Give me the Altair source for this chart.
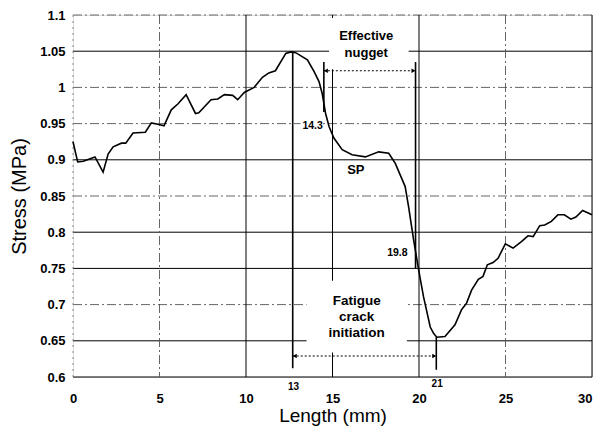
import altair as alt
import pandas as pd

# ---- data ----
length = [0, 0.27, 0.6, 1.27, 1.74, 2.03, 2.32, 2.8, 3.05, 3.47,
          4.18, 4.53, 4.9, 5.26, 5.68, 6.06, 6.54, 7.08, 7.27, 7.98,
          8.37, 8.75, 9.23, 9.52, 9.9, 10.47, 10.95, 11.32, 11.7, 12.3,
          12.59, 12.87, 13.55, 13.93, 14.22, 14.4, 14.6, 14.8, 15.08, 15.56,
          16.13, 16.9, 17.67, 18.25, 18.63, 19.2, 19.4, 19.69, 19.98, 20.26,
          20.65, 20.85, 21.03, 21.5, 22.08, 22.46, 22.75, 23.04, 23.43, 23.7,
          23.95, 24.28, 24.57, 24.99, 25.44, 25.92, 26.3, 26.6, 26.98, 27.27,
          27.65, 28.03, 28.4, 28.78, 29.07, 29.46, 30]
stress = [0.925, 0.897, 0.898, 0.904, 0.883, 0.908, 0.918, 0.923, 0.923, 0.937,
          0.938, 0.951, 0.949, 0.947, 0.969, 0.977, 0.990, 0.964, 0.965, 0.983,
          0.984, 0.990, 0.989, 0.983, 0.993, 1.0, 1.014, 1.02, 1.023, 1.047,
          1.049, 1.048, 1.038, 1.022, 1.008, 0.992, 0.964, 0.946, 0.930, 0.914,
          0.907, 0.904, 0.911, 0.909, 0.895, 0.863, 0.835, 0.789, 0.748, 0.711,
          0.669, 0.660, 0.655, 0.656, 0.672, 0.693, 0.702, 0.72, 0.735, 0.739,
          0.755, 0.758, 0.764, 0.784, 0.778, 0.787, 0.795, 0.794, 0.809, 0.81,
          0.815, 0.824, 0.824, 0.818, 0.821, 0.830, 0.824]

x_ticks = [0, 5, 10, 15, 20, 25, 30]
y_ticks = [0.6, 0.65, 0.7, 0.75, 0.8, 0.85, 0.9, 0.95, 1.0, 1.05, 1.1]

grid_solid_y = [0.6, 0.65, 0.75, 0.8, 0.9, 1.05]
grid_dash_y = [0.7, 0.85, 0.95, 1.0, 1.1]
grid_solid_x = [10, 15, 20, 30]
grid_dash_x = [5, 25]
grid_dot_x = [0]

# white boxes behind the annotation texts
box_x1 = [14.8, 13.15, 15.8, 13.5]
box_x2 = [19.4, 14.45, 16.9, 19.3]
box_y1 = [1.025, 0.938, 0.873, 0.634]
box_y2 = [1.096, 0.957, 0.898, 0.733]

# annotation vertical lines
ann_x = [12.7, 14.5, 19.8, 21.0]
ann_top = [1.05, 1.035, 1.035, 0.655]
ann_bottom = [0.612, 0.966, 0.75, 0.61]

# dotted double arrows
arrow_x1 = [14.5, 12.7]
arrow_x2 = [19.8, 21.0]
arrow_y = [1.023, 0.629]

# texts
label_text = ["Effective", "nugget", "14.3", "SP", "19.8",
              "Fatigue", "crack", "initiation", "13", "21"]
label_x = [16.95, 16.95, 13.85, 16.35, 18.75, 16.4, 16.4, 16.4, 12.75, 21.05]
label_y = [1.071, 1.048, 0.947, 0.886, 0.771, 0.705, 0.683, 0.661, 0.586, 0.590]
label_size = [13, 13, 10.5, 13, 10.5, 13.5, 13.5, 13.5, 10, 10]

FONT = "Liberation Sans"

xs = alt.Scale(domain=[0, 30], nice=False, zero=False)
ys = alt.Scale(domain=[0.6, 1.1], nice=False, zero=False)

x_axis = alt.Axis(values=x_ticks, title="Length (mm)", grid=False, ticks=False,
                  domain=False, labelFont=FONT, labelFontSize=13,
                  labelFontWeight="bold", labelColor="black", labelPadding=15,
                  labelAlign=alt.ConditionalAxisLabelAlign(
                      condition={"test": "datum.value == 30", "value": "right"},
                      value="center"),
                  titleFont=FONT, titleFontSize=19, titleFontWeight="normal",
                  titleColor="black", titleY=44, titleBaseline="alphabetic",
                  labelFlush=False)
y_axis = alt.Axis(values=y_ticks, title="Stress (MPa)", grid=False, ticks=False,
                  domain=False, labelFont=FONT, labelFontSize=13,
                  labelFontWeight="bold", labelColor="black", labelPadding=8,
                  labelExpr="'' + datum.value",
                  titleFont=FONT, titleFontSize=20, titleFontWeight="normal",
                  titleColor="black", titlePadding=10, labelFlush=False)


def X(f):
    return alt.X(f, type="quantitative", scale=xs, axis=x_axis)


def Y(f):
    return alt.Y(f, type="quantitative", scale=ys, axis=y_axis)


curve_df = pd.DataFrame({"length": length, "stress": stress})

gs_y = alt.Chart(pd.DataFrame({"v": grid_solid_y})).mark_rule(
    color="black", strokeWidth=1).encode(y=Y("v"))
gd_y = alt.Chart(pd.DataFrame({"v": grid_dash_y})).mark_rule(
    color="#555", strokeWidth=0.9, strokeDash=[9, 3, 2, 3]).encode(y=Y("v"))
gs_x = alt.Chart(pd.DataFrame({"v": grid_solid_x})).mark_rule(
    color="black", strokeWidth=1).encode(x=X("v"))
gd_x = alt.Chart(pd.DataFrame({"v": grid_dash_x})).mark_rule(
    color="#555", strokeWidth=0.9, strokeDash=[9, 3, 2, 3]).encode(x=X("v"))
gdot_x = alt.Chart(pd.DataFrame({"v": grid_dot_x})).mark_rule(
    color="#888", strokeWidth=1, strokeDash=[2, 4]).encode(x=X("v"))

boxes = alt.Chart(pd.DataFrame({"x1": box_x1, "x2": box_x2,
                                "y1": box_y1, "y2": box_y2})).mark_rect(
    fill="white").encode(x=X("x1"), x2="x2", y=Y("y1"), y2="y2")

ann = alt.Chart(pd.DataFrame({"x": ann_x, "t": ann_top, "b": ann_bottom})).mark_rule(
    color="black", strokeWidth=1.6).encode(x=X("x"), y=Y("t"), y2="b")

arrow_df = pd.DataFrame({"x1": arrow_x1, "x2": arrow_x2, "y": arrow_y})
arrows = alt.Chart(arrow_df).mark_rule(
    color="black", strokeWidth=1.2, strokeDash=[2, 2]).encode(
    x=X("x1"), x2="x2", y=Y("y"))
heads_l = alt.Chart(arrow_df).mark_point(
    shape="triangle-left", filled=True, color="black", size=22, opacity=1,
    xOffset=2).encode(x=X("x1"), y=Y("y"))
heads_r = alt.Chart(arrow_df).mark_point(
    shape="triangle-right", filled=True, color="black", size=22, opacity=1,
    xOffset=-2).encode(x=X("x2"), y=Y("y"))

curve = alt.Chart(curve_df).mark_line(
    color="black", strokeWidth=1.6, interpolate="linear").encode(
    x=X("length"), y=Y("stress"))

labels = alt.Chart(pd.DataFrame({"t": label_text, "x": label_x, "y": label_y,
                                 "s": label_size})).mark_text(
    font=FONT, fontWeight="bold", color="black", align="center",
    baseline="middle").encode(
    x=X("x"), y=Y("y"), text="t",
    size=alt.Size("s", type="quantitative", scale=None, legend=None))

chart = alt.layer(gs_y, gd_y, gs_x, gd_x, gdot_x, boxes, ann, arrows,
                  heads_l, heads_r, curve, labels).properties(
    width=519, height=362,
    autosize=alt.AutoSizeParams(type="none"),
    padding={"left": 65, "top": 7, "right": 2, "bottom": 49},
).configure_view(stroke=None).configure(background="white")

chart.save("out.html", embed_options={"renderer": "svg", "actions": False})
